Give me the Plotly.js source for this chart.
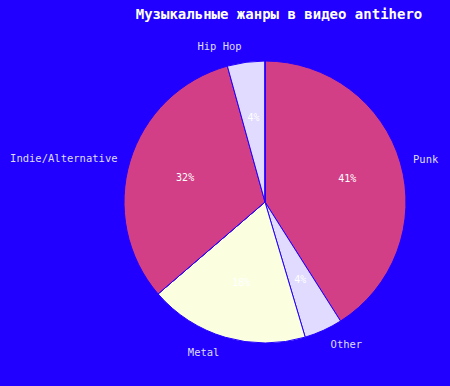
<!DOCTYPE html>
<html><head><meta charset="utf-8">
<script src="https://cdn.plot.ly/plotly-3.0.1.min.js"></script>
<style>html,body{margin:0;padding:0;background:#2200ff;}</style>
</head><body><div id="chart" style="width:450px;height:386px;"></div>
<script>
var labels = ["Punk", "Other", "Metal", "Pop", "Indie/Alternative", "Hip Hop", "Rock"];
var values = [41.0, 4.4, 18.3, 0, 32.0, 4.3, 0];
var outsideText = ["Punk", "Other", "Metal", "", "Indie/Alternative", "Hip Hop", ""];
var colors = ["#d33f87", "#e0dbff", "#fbffe0", "#d33f87", "#d33f87", "#e0dbff", "#d33f87"];
var titleText = "Музыкальные жанры в видео antihero";

// pie geometry in pixels (centre, radius) -> domain
var W = 450, H = 386, CX = 265, CY = 202, R = 141;
function dom(r) {
  return {x: [(CX - r) / W, (CX + r) / W], y: [(H - CY - r) / H, (H - CY + r) / H]};
}
var clear = labels.map(function(){ return "rgba(0,0,0,0)"; });
var base = {
  type: "pie", labels: labels, values: values, sort: false, direction: "clockwise",
  rotation: 0, hoverinfo: "none", showlegend: false
};
var slices = Object.assign({}, base, {
  domain: dom(R),
  marker: {colors: colors, line: {color: "#2200ff", width: 1}},
  textinfo: "none"
});
// percentage text layers (transparent), grouped so the text lands near 0.6 R
function pctLayer(r, which) {
  return Object.assign({}, base, {
    domain: dom(r),
    marker: {colors: clear, line: {width: 0}},
    textposition: "inside", insidetextorientation: "horizontal",
    texttemplate: labels.map(function(l){ return which.indexOf(l) >= 0 ? "%{percent:.0%}" : ""; }),
    insidetextfont: {family: "DejaVu Sans Mono", size: 10, color: "#ffffff"}
  });
}
var pA = pctLayer(168, ["Punk"]);
var pA2 = pctLayer(154, ["Indie/Alternative"]);
var pB = pctLayer(130, ["Metal"]);
var pC = pctLayer(97, ["Other", "Hip Hop"]);
var outside = Object.assign({}, base, {
  domain: dom(R + 10),
  marker: {colors: clear, line: {width: 0}},
  text: outsideText, textinfo: "text", textposition: "outside",
  outsidetextfont: {family: "DejaVu Sans Mono", size: 10.5, color: "#ddddff"}
});
var layout = {
  width: W, height: H, margin: {l: 0, r: 0, t: 0, b: 0},
  paper_bgcolor: "#2200ff", plot_bgcolor: "#2200ff",
  title: {text: titleText, x: 0.62, xanchor: "center", y: 0.963, yanchor: "middle",
    font: {family: "DejaVu Sans Mono", size: 14, color: "#ffffff", weight: "bold"}}
};
Plotly.newPlot("chart", [slices, pA, pA2, pB, pC, outside], layout, {displayModeBar: false, staticPlot: true});
</script></body></html>
